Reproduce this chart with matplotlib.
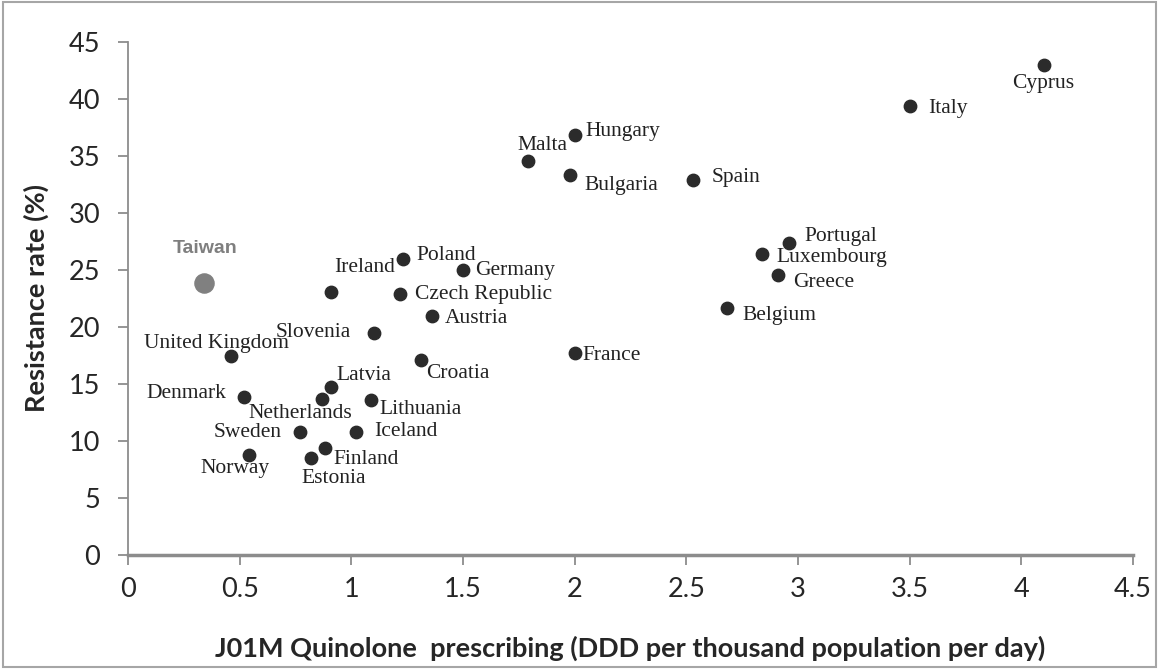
import matplotlib
matplotlib.use("Agg")
import matplotlib.pyplot as plt
from matplotlib.patches import Rectangle

countries = ["Cyprus", "Italy", "Hungary", "Malta", "Bulgaria", "Spain",
             "Portugal", "Luxembourg", "Greece", "Belgium", "France",
             "Ireland", "Poland", "Germany", "Czech Republic", "Austria",
             "Slovenia", "United Kingdom", "Croatia", "Latvia", "Denmark",
             "Netherlands", "Lithuania", "Sweden", "Iceland", "Norway",
             "Finland", "Estonia"]
prescribing = [4.10, 3.50, 2.00, 1.79, 1.98, 2.53,
               2.96, 2.84, 2.91, 2.68, 2.00,
               0.91, 1.23, 1.50, 1.22, 1.36,
               1.10, 0.46, 1.31, 0.91, 0.52,
               0.87, 1.09, 0.77, 1.02, 0.54,
               0.88, 0.82]
resistance = [43.0, 39.4, 36.8, 34.6, 33.3, 32.9,
              27.4, 26.4, 24.6, 21.7, 17.7,
              23.1, 26.0, 25.0, 22.9, 21.0,
              19.5, 17.5, 17.1, 14.7, 13.9,
              13.7, 13.6, 10.8, 10.8, 8.8,
              9.4, 8.5]

taiwan_x = 0.34
taiwan_y = 23.9

# label offsets in pixels (dx, dy, ha)
offsets = {
    "Cyprus": (0, -19, "center"), "Italy": (19, -3, "left"),
    "Hungary": (11, 4, "left"), "Malta": (15, 15, "center"),
    "Bulgaria": (14, -10, "left"), "Spain": (19, 2, "left"),
    "Portugal": (15, 6, "left"), "Luxembourg": (14, -3, "left"),
    "Greece": (15, -8, "left"), "Belgium": (16, -8, "left"),
    "France": (8, -2, "left"), "Ireland": (33, 24, "center"),
    "Poland": (14, 3, "left"), "Germany": (12, 0, "left"),
    "Czech Republic": (15, -1, "left"), "Austria": (13, -3, "left"),
    "Slovenia": (-23, 0, "right"), "United Kingdom": (-14, 12, "center"),
    "Croatia": (6, -13, "left"), "Latvia": (5, 12, "left"),
    "Denmark": (-18, 3, "right"), "Netherlands": (-22, -15, "center"),
    "Lithuania": (8, -10, "left"), "Sweden": (-18, -1, "right"),
    "Iceland": (18, 0, "left"), "Norway": (-14, -14, "center"),
    "Finland": (9, -12, "left"), "Estonia": (23, -20, "center"),
}

grey = "#8c8c8c"
tick_font = "Lato"

fig = plt.figure(figsize=(11.59, 6.69), dpi=100)
ax = fig.add_axes([128 / 1159, 114 / 669, 1005 / 1159, 513 / 669])

ax.scatter(prescribing, resistance, s=80, color="#2b2b2b", zorder=3)
ax.scatter([taiwan_x], [taiwan_y], s=190, color="#808080", zorder=3)

for name, x, y in zip(countries, prescribing, resistance):
    dx, dy, ha = offsets[name]
    ax.annotate(name, (x, y), xytext=(dx, dy), textcoords="offset pixels",
                ha=ha, va="center", fontsize=15.5, family="Liberation Serif",
                color="#222222")
ax.annotate("Taiwan", (taiwan_x, taiwan_y), xytext=(1, 34),
            textcoords="offset pixels", ha="center", va="center",
            fontsize=14, fontweight="bold", family="Liberation Sans",
            color="#7f7f7f")

ax.set_xlim(0, 4.5)
ax.set_ylim(0, 45)
ax.set_xticks([0, 0.5, 1, 1.5, 2, 2.5, 3, 3.5, 4, 4.5])
ax.set_xticklabels(["0", "0.5", "1", "1.5", "2", "2.5", "3", "3.5", "4", "4.5"])
ax.set_yticks(range(0, 50, 5))

for side in ["top", "right"]:
    ax.spines[side].set_visible(False)
ax.spines["left"].set_color(grey)
ax.spines["left"].set_linewidth(1.3)
ax.spines["bottom"].set_color(grey)
ax.spines["bottom"].set_linewidth(2.5)
ax.tick_params(axis="both", direction="out", length=7, width=1.3,
               color=grey, labelsize=19.5, labelcolor="#262626")
ax.tick_params(axis="y", pad=13)
ax.tick_params(axis="x", pad=9)
for lab in ax.get_xticklabels() + ax.get_yticklabels():
    lab.set_family(tick_font)

ax.set_xlabel("J01M Quinolone  prescribing (DDD per thousand population per day)",
              fontsize=19.5, fontweight="bold", family=tick_font, color="#262626",
              labelpad=24)
ax.set_ylabel("Resistance rate (%)", fontsize=19.5, fontweight="bold",
              family=tick_font, color="#262626", labelpad=14)

fig.patches.append(Rectangle((0.003, 0.003), 0.994, 0.994, transform=fig.transFigure,
                             fill=False, edgecolor="#a6a6a6", linewidth=1.5))

fig.savefig("out.png", dpi=100)
